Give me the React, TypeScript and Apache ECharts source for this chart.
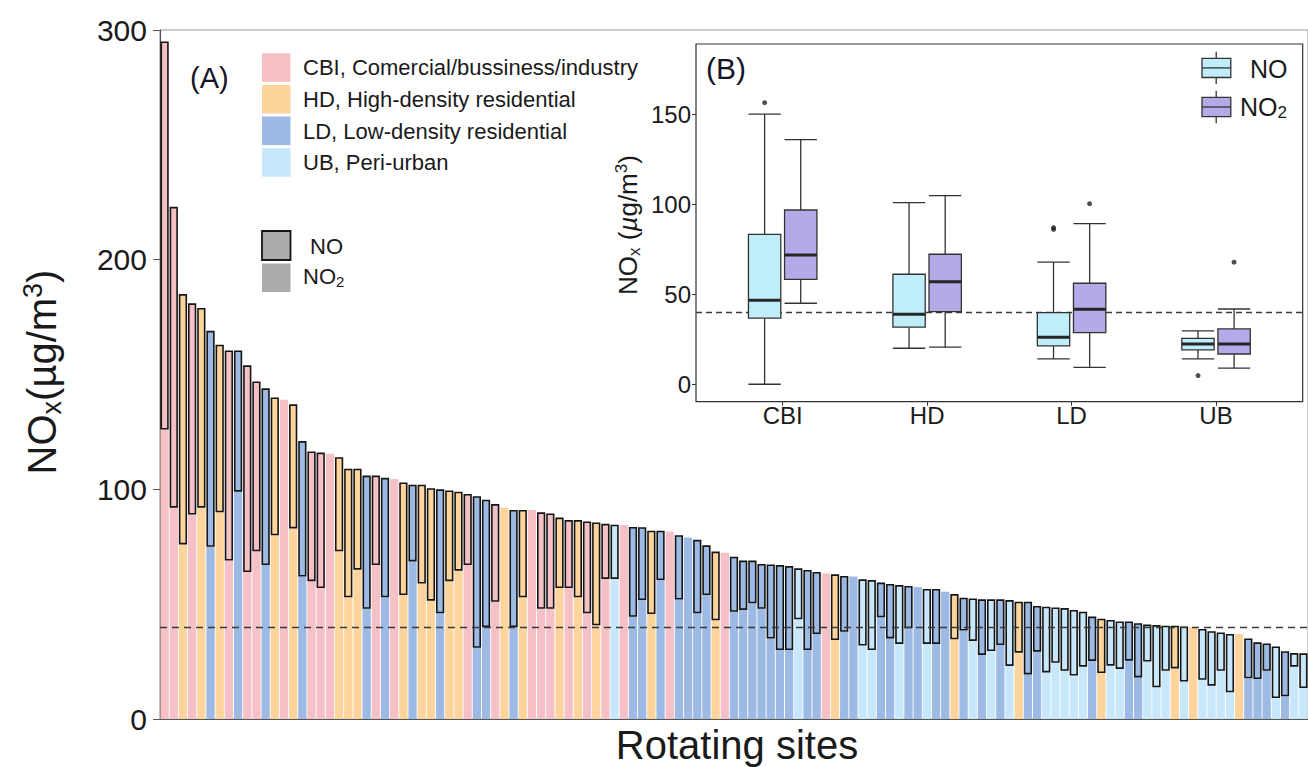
import React, { useEffect, useRef } from 'react';
import * as echarts from 'echarts';

// ---------- Panel A data (sites sorted by NOx) ----------
const siteCategory: string[] = [
  'CBI','CBI','HD','CBI','HD','LD','HD','CBI','LD','CBI',
  'CBI','LD','HD','CBI','HD','LD','CBI','CBI','CBI','HD',
  'HD','HD','LD','CBI','LD','CBI','HD','LD','HD','HD',
  'LD','HD','HD','CBI','LD','LD','CBI','HD','LD','HD',
  'CBI','CBI','CBI','HD','CBI','HD','CBI','HD','CBI','UB',
  'CBI','LD','LD','HD','LD','CBI','LD','LD','LD','LD',
  'HD','CBI','LD','LD','LD','LD','LD','LD','LD','UB',
  'LD','LD','CBI','HD','LD','LD','UB','UB','LD','LD',
  'UB','LD','LD','UB','LD','LD','HD','LD','UB','LD',
  'UB','LD','UB','HD','LD','LD','UB','UB','UB','UB',
  'UB','LD','HD','UB','UB','LD','LD','UB','UB','UB',
  'HD','UB','HD','UB','UB','UB','UB','HD','LD','LD',
  'LD','UB','LD','UB','UB'
];

const no2Values: number[] = [
  126, 92, 76, 89, 92, 75, 90, 69, 99, 64,
  73, 67, 80, 139, 83, 62, 60, 57, 115.5, 73,
  53, 65, 48, 67, 53, 104.5, 54, 68.6, 59, 51.5,
  46, 60, 64.6, 67, 31, 40, 51, 92, 40, 53,
  91, 48, 48, 57, 57, 53, 46, 40.8, 61, 61,
  84.5, 44.5, 51.8, 45.7, 60.5, 81.6, 52, 79, 46, 54,
  43, 72.4, 46.7, 47.5, 50.4, 48, 35, 30, 30, 43.4,
  30, 37, 63.4, 34.4, 38, 62, 32, 30, 44.3, 35.1,
  32.7, 39.5, 57.5, 32.7, 32.7, 55.4, 34.7, 38.5, 34, 27.9,
  29.6, 32.2, 23.1, 28.9, 19.4, 29.3, 20.3, 24.5, 21, 18.9,
  22.8, 25.3, 20, 23.2, 21.8, 25.4, 18.1, 25, 13.8, 21,
  22, 16.3, 40.2, 17.1, 14.5, 21, 11.6, 37, 17.7, 17.4,
  21, 9.1, 9.9, 22.8, 13.5
];

// null = NO not measured at that site
const noValues: (number | null)[] = [
  169, 131, 109, 92, 87, 94, 73, 91.5, 61.5, 90,
  74, 77, 60, null, 54, 59, 56.5, 59, null, 41,
  56, 44, 58, 39, 52, null, 49, 33.4, 43, 49,
  54, 39.5, 34.4, 31, 66, 55.5, 42.6, null, 51, 38,
  null, 42, 41.5, 30.7, 29.6, 33.6, 40, 44.8, 24, 23.6,
  null, 39.1, 31.7, 36.3, 21.5, null, 28, null, 32, 21.6,
  29.9, null, 24, 21.5, 18.6, 19.5, 32.3, 37, 36.6, 22.2,
  34.9, 27, null, 28.6, 24.3, null, 28.8, 30.5, 15.1, 23.7,
  25.6, 18.4, null, 23.9, 23.9, null, 19.7, 14.3, 18.5, 24.2,
  22.5, 19.9, 28.7, 22.2, 31.7, 19.9, 28.6, 24.1, 27.3, 28.6,
  23.9, 19.3, 23.7, 19.9, 20.7, 17.1, 23.6, 16.1, 27.1, 19.6,
  18.6, 24, null, 22.1, 23.7, 16.7, 25.4, null, 17.4, 16,
  11.9, 22.5, 19.6, 5.9, 15.1
];

const siteLabels: string[] = siteCategory.map((_, i) => 'Site ' + (i + 1));
const limitValue = 40;

const legendA = [
  { key: 'CBI', label: 'CBI, Comercial/bussiness/industry' },
  { key: 'HD', label: 'HD, High-density residential' },
  { key: 'LD', label: 'LD, Low-density residential' },
  { key: 'UB', label: 'UB, Peri-urban' },
];

// ---------- Panel B data (boxplots) ----------
const boxCategories = ['CBI', 'HD', 'LD', 'UB'];
// [min, Q1, median, Q3, max]
const noBox: number[][] = [
  [0, 36.7, 46.7, 83.3, 150],
  [20, 31.7, 38.9, 61.1, 100.9],
  [14.1, 21.3, 26.1, 39.8, 67.8],
  [14.1, 19.1, 22.4, 25.5, 29.6],
];
const no2Box: number[][] = [
  [45, 58.3, 71.8, 96.8, 135.9],
  [20.6, 40.3, 57, 72.2, 104.8],
  [9.4, 28.7, 41.7, 56.1, 89.2],
  [8.9, 16.8, 22.4, 30.7, 41.8],
];
const noOutliers: number[][] = [[1, 156.4], [3, 86], [3, 87], [4, 4.8]];
const no2Outliers: number[][] = [[3, 100.3], [4, 67.8]];
const insetYTicks = [0, 50, 100, 150];

const catColors: Record<string, string> = {
  CBI: '#F5C1C7',
  HD: '#FDD49C',
  LD: '#9DBAE4',
  UB: '#C9E7FB',
};
const noBoxColor = '#BFEDFA';
const no2BoxColor = '#B4AAE8';
const FONT = "'Liberation Sans', Arial, Helvetica, sans-serif";

export default function App() {
  const ref = useRef<HTMLDivElement>(null);

  useEffect(() => {
    if (!ref.current) return;
    const chart = echarts.init(ref.current, undefined, { renderer: 'svg' });

    const no2Data = no2Values.map((v, i) => ({
      value: v,
      itemStyle: { color: catColors[siteCategory[i]] },
    }));
    const noData = noValues.map((v, i) => ({
      value: v == null ? '-' : v,
      itemStyle: {
        color: catColors[siteCategory[i]],
        borderColor: '#151515',
        borderWidth: 1.6,
      },
    }));

    const makeBoxSeries = (name: string, boxes: number[][], color: string, side: number) => ({
      type: 'custom',
      name,
      xAxisIndex: 1,
      yAxisIndex: 1,
      z: 5,
      data: boxes.map((b, i) => [i + 1, ...b]),
      renderItem: (params: any, api: any) => {
        const x = api.value(0);
        const unit = api.size([1, 0])[0];
        const cx = api.coord([x, 0])[0] + side * unit * 0.125;
        const hw = unit * 0.112;
        const yMin = api.coord([x, api.value(1)])[1];
        const yQ1 = api.coord([x, api.value(2)])[1];
        const yMed = api.coord([x, api.value(3)])[1];
        const yQ3 = api.coord([x, api.value(4)])[1];
        const yMax = api.coord([x, api.value(5)])[1];
        const ls = { stroke: '#333', lineWidth: 1.3 };
        return {
          type: 'group',
          children: [
            { type: 'line', shape: { x1: cx, y1: yMax, x2: cx, y2: yQ3 }, style: ls },
            { type: 'line', shape: { x1: cx, y1: yQ1, x2: cx, y2: yMin }, style: ls },
            { type: 'line', shape: { x1: cx - hw, y1: yMax, x2: cx + hw, y2: yMax }, style: ls },
            { type: 'line', shape: { x1: cx - hw, y1: yMin, x2: cx + hw, y2: yMin }, style: ls },
            {
              type: 'rect',
              shape: { x: cx - hw, y: yQ3, width: hw * 2, height: yQ1 - yQ3 },
              style: { fill: color, stroke: '#333', lineWidth: 1.3 },
            },
            { type: 'line', shape: { x1: cx - hw, y1: yMed, x2: cx + hw, y2: yMed }, style: { stroke: '#262626', lineWidth: 3 } },
          ],
        };
      },
    });

    const txt = (text: string, x: number, y: number, size: number, extra: any = {}) => ({
      type: 'text',
      x,
      y,
      z: 100,
      style: {
        text,
        fontSize: size,
        fontFamily: FONT,
        fill: extra.fill || '#1a1a1a',
        align: extra.align || 'left',
        verticalAlign: 'middle',
        textAlign: extra.align || 'left',
        textVerticalAlign: 'middle',
        rich: extra.rich,
      },
      rotation: extra.rotation || 0,
    });

    const subSup = (size: number, subSize: number) => ({
      sub: { fontSize: subSize, fontFamily: FONT, lineHeight: subSize, verticalAlign: 'bottom', fill: '#1a1a1a' },
      sup: { fontSize: subSize, fontFamily: FONT, lineHeight: subSize, verticalAlign: 'top', fill: '#1a1a1a' },
      it: { fontSize: size, fontFamily: FONT, fontStyle: 'italic', lineHeight: size * 1.15, fill: '#1a1a1a' },
      n: { fontSize: size, fontFamily: FONT, lineHeight: size * 1.15, fill: '#1a1a1a' },
    });

    const legendGraphics: any[] = [];
    legendA.forEach((l, i) => {
      const y = 53.3 + i * 31.6;
      legendGraphics.push({
        type: 'rect', z: 100,
        shape: { x: 262, y, width: 28.5, height: 28.6 },
        style: { fill: catColors[l.key] },
      });
      legendGraphics.push(txt(l.label, 303, y + 14.6, 22));
    });
    legendGraphics.push({
      type: 'rect', z: 100,
      shape: { x: 262, y: 231, width: 28.5, height: 29 },
      style: { fill: '#ABABAB', stroke: '#151515', lineWidth: 1.8 },
    });
    legendGraphics.push({
      type: 'rect', z: 100,
      shape: { x: 262, y: 263.5, width: 28.5, height: 28.5 },
      style: { fill: '#ABABAB' },
    });
    legendGraphics.push(txt('NO', 310, 246, 22));
    legendGraphics.push(txt('{n|NO}{sub|2}', 303, 276, 22, { rich: subSup(22, 15) }));
    legendGraphics.push(txt('(A)', 190, 78, 29, { fill: '#14142a' }));
    legendGraphics.push(txt('(B)', 706, 68, 30, { fill: '#14142a' }));

    // inset legend glyphs
    const glyph = (top: number, color: string) => {
      const cx = 1216.2;
      const x = 1202;
      const w = 28.8;
      const h = 19.2;
      return [
        { type: 'line', z: 100, shape: { x1: cx, y1: top - 6.6, x2: cx, y2: top }, style: { stroke: '#333', lineWidth: 1.3 } },
        { type: 'line', z: 100, shape: { x1: cx, y1: top + h, x2: cx, y2: top + h + 6.6 }, style: { stroke: '#333', lineWidth: 1.3 } },
        { type: 'rect', z: 100, shape: { x, y: top, width: w, height: h }, style: { fill: color, stroke: '#333', lineWidth: 1.3 } },
        { type: 'line', z: 101, shape: { x1: x, y1: top + h / 2, x2: x + w, y2: top + h / 2 }, style: { stroke: '#333', lineWidth: 1.3 } },
      ];
    };
    legendGraphics.push(...glyph(58.3, noBoxColor));
    legendGraphics.push(...glyph(97.4, no2BoxColor));
    legendGraphics.push(txt('NO', 1250, 68.5, 25));
    legendGraphics.push(txt('{n|NO}{sub|2}', 1240, 107, 25, { rich: subSup(25, 17) }));

    // axis titles
    legendGraphics.push(
      txt('{n|NO}{sub|x}{n|(µg/m}{sup|3}{n|)}', 42, 372, 40, {
        align: 'center',
        rotation: Math.PI / 2,
        rich: subSup(40, 27),
      })
    );
    legendGraphics.push(txt('Rotating sites', 737, 745, 40, { align: 'center' }));
    legendGraphics.push(
      txt('{n|NO}{sub|x}{n| (}{it|µ}{n|g/m}{sup|3}{n|)}', 628, 225, 26, {
        align: 'center',
        rotation: Math.PI / 2,
        rich: subSup(26, 17),
      })
    );

    const option: any = {
      animation: false,
      backgroundColor: '#ffffff',
      textStyle: { fontFamily: FONT },
      grid: [
        { left: 160, right: 0, top: 30, bottom: 48, show: true, borderColor: '#9a9a9a', borderWidth: 1 },
        { left: 696, right: 5.3, top: 44, bottom: 365.3, show: true, borderColor: '#333', borderWidth: 1.2, backgroundColor: '#ffffff', z: 3 },
      ],
      xAxis: [
        {
          type: 'category',
          gridIndex: 0,
          data: siteLabels,
          boundaryGap: true,
          axisLine: { lineStyle: { color: '#555', width: 1.2 } },
          axisTick: { show: false },
          axisLabel: { show: false },
          splitLine: { show: false },
        },
        {
          type: 'value',
          gridIndex: 1,
          min: 0.4,
          max: 4.6,
          axisLine: { show: false, onZero: false },
          axisTick: { show: true, length: 4, customValues: [1, 2, 3, 4], lineStyle: { color: '#333' } },
          axisLabel: {
            customValues: [1, 2, 3, 4],
            formatter: (v: number) => boxCategories[Math.round(v) - 1] || '',
            fontSize: 24,
            color: '#1a1a1a',
            margin: 2,
            fontFamily: FONT,
          },
          splitLine: { show: false },
          z: 6,
        },
      ],
      yAxis: [
        {
          type: 'value',
          gridIndex: 0,
          min: 0,
          max: 300,
          interval: 100,
          axisLine: { show: true, lineStyle: { color: '#555', width: 1.2 } },
          axisTick: { show: true, length: 7, lineStyle: { color: '#555' } },
          axisLabel: {
            fontSize: 30,
            color: '#1a1a1a',
            margin: 13,
            fontFamily: FONT,
          },
          splitLine: { show: false },
        },
        {
          type: 'value',
          gridIndex: 1,
          min: -9.7,
          max: 189,
          axisLine: { show: false, onZero: false },
          axisTick: { show: true, length: 4, customValues: insetYTicks, lineStyle: { color: '#333' } },
          axisLabel: {
            customValues: insetYTicks,
            fontSize: 24,
            color: '#1a1a1a',
            margin: 5,
            fontFamily: FONT,
          },
          splitLine: { show: false },
          z: 6,
        },
      ],
      series: [
        {
          type: 'bar',
          name: 'NO2',
          stack: 'nox',
          xAxisIndex: 0,
          yAxisIndex: 0,
          barCategoryGap: '10%',
          data: no2Data,
        },
        {
          type: 'bar',
          name: 'NO',
          stack: 'nox',
          xAxisIndex: 0,
          yAxisIndex: 0,
          barCategoryGap: '10%',
          data: noData,
          markLine: {
            silent: true,
            symbol: ['none', 'none'],
            label: { show: false },
            lineStyle: { type: [7, 5], color: '#3a3a3a', width: 1.3 },
            data: [{ yAxis: limitValue }],
          },
        },
        makeBoxSeries('NO box', noBox, noBoxColor, -1),
        makeBoxSeries('NO2 box', no2Box, no2BoxColor, 1),
        {
          type: 'scatter',
          name: 'NO outliers',
          xAxisIndex: 1,
          yAxisIndex: 1,
          symbolSize: 5,
          symbolOffset: [-18, 0],
          itemStyle: { color: '#222' },
          z: 6,
          data: noOutliers,
          markLine: {
            silent: true,
            symbol: ['none', 'none'],
            label: { show: false },
            lineStyle: { type: [6, 4], color: '#3a3a3a', width: 1.3 },
            data: [{ yAxis: limitValue }],
          },
        },
        {
          type: 'scatter',
          name: 'NO2 outliers',
          xAxisIndex: 1,
          yAxisIndex: 1,
          symbolSize: 5,
          symbolOffset: [18, 0],
          itemStyle: { color: '#222' },
          z: 6,
          data: no2Outliers,
        },
      ],
      graphic: legendGraphics,
    };

    chart.setOption(option);
    return () => chart.dispose();
  }, []);

  return (
    <div
      ref={ref}
      style={{ position: 'fixed', left: 0, top: 0, width: 1308, height: 767, background: '#fff' }}
    />
  );
}
